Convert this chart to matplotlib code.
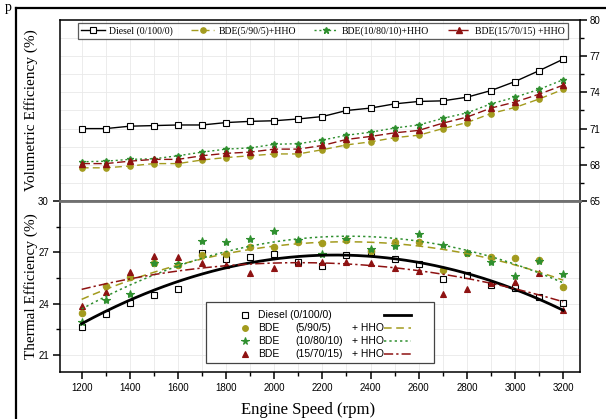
import numpy as np
import matplotlib
matplotlib.use("Agg")
import matplotlib.pyplot as plt
from matplotlib.lines import Line2D
from matplotlib.patches import Rectangle

# ---------------- data ----------------
rpm = [1200, 1300, 1400, 1500, 1600, 1700, 1800, 1900, 2000, 2100, 2200,
       2300, 2400, 2500, 2600, 2700, 2800, 2900, 3000, 3100, 3200]

vol_diesel = [71.0, 71.0, 71.2, 71.25, 71.3, 71.3, 71.5, 71.6, 71.65, 71.8, 72.0,
              72.5, 72.7, 73.05, 73.25, 73.3, 73.6, 74.15, 74.9, 75.8, 76.75]
vol_bde5 = [67.75, 67.75, 67.9, 68.1, 68.1, 68.4, 68.6, 68.75, 68.9, 68.9, 69.25,
            69.65, 69.9, 70.25, 70.45, 71.0, 71.5, 72.25, 72.75, 73.45, 74.25]
vol_bde10 = [68.25, 68.3, 68.45, 68.5, 68.75, 69.05, 69.3, 69.4, 69.7, 69.75, 70.05,
             70.45, 70.7, 71.05, 71.3, 71.85, 72.3, 73.05, 73.6, 74.25, 75.05]
vol_bde15 = [68.1, 68.1, 68.3, 68.45, 68.45, 68.75, 68.95, 69.05, 69.3, 69.3, 69.6,
             70.1, 70.35, 70.65, 70.85, 71.45, 71.95, 72.7, 73.2, 73.85, 74.6]

te_diesel = [22.65, 23.4, 24.06, 24.49, 24.86, 26.95, 26.6, 26.7, 26.92, 26.45, 26.22,
             26.85, 27.0, 26.6, 26.3, 25.45, 25.65, 25.1, 24.92, 24.38, 24.05]
te_bde5 = [23.45, 25.05, 25.55, 26.35, 26.25, 26.85, 26.88, 27.29, 27.32, 27.6, 27.53,
           27.72, 27.1, 27.58, 27.62, 25.99, 26.93, 26.75, 26.64, 26.54, 24.95]
te_bde10 = [22.93, 24.2, 24.59, 26.39, 26.3, 27.66, 27.58, 27.77, 28.24, 27.72, 26.88,
            27.75, 27.2, 27.37, 28.07, 27.42, 26.93, 26.44, 25.61, 26.5, 25.76]
te_bde15 = [23.85, 24.65, 25.82, 26.8, 26.7, 26.39, 26.25, 25.8, 26.06, 26.39, 26.45,
            26.45, 26.4, 26.06, 25.9, 24.55, 24.83, 25.18, 25.24, 25.8, 23.65]

top_labels = ["Diesel (0/100/0)", "BDE(5/90/5)+HHO", "BDE(10/80/10)+HHO", "BDE(15/70/15) +HHO"]
bot_col1 = ["Diesel (0/100/0)", "BDE", "BDE", "BDE"]
bot_col2 = ["", "(5/90/5)", "(10/80/10)", "(15/70/15)"]
bot_col3 = ["", "+ HHO", "+ HHO", "+ HHO"]

vol_ticks = [65, 68, 71, 74, 77, 80]
te_ticks = [21, 24, 27, 30]
x_ticks = [1200, 1400, 1600, 1800, 2000, 2200, 2400, 2600, 2800, 3000, 3200]

# ---------------- styles ----------------
C_D = "black"
C_5 = "#a39b1e"
C_10 = "#2f8f2f"
C_15 = "#8e1212"
SERIF = "Liberation Serif"
SANS = "Liberation Sans"

W, H = 606, 419
fig = plt.figure(figsize=(W / 100, H / 100), dpi=100)


def fx(px):
    return px / W


def fy(py):
    return 1 - py / H


L, R, T, MID, B = 60, 580, 20, 201, 372
ax1 = fig.add_axes([fx(L), fy(MID), fx(R) - fx(L), fy(T) - fy(MID)])
ax2 = fig.add_axes([fx(L), fy(B), fx(R) - fx(L), fy(MID) - fy(B)])

xlim = (1110, 3270)
grid_kw = dict(color="#e9e9e9", lw=0.6)

# ---------------- top panel ----------------
ax1.set_xlim(*xlim)
ax1.set_ylim(65, 80)
ax1.set_xticks(x_ticks)
ax1.set_xticks(rpm, minor=True)
ax1.tick_params(axis="x", which="both", length=0, labelbottom=False)
ax1.yaxis.tick_right()
ax1.set_yticks(vol_ticks)
ax1.set_yticks([66.5, 69.5, 72.5, 75.5, 78.5], minor=True)
ax1.tick_params(axis="y", which="major", length=5, width=1.1, direction="out",
                labelsize=7, pad=2)
ax1.tick_params(axis="y", which="minor", length=3, width=1.0, direction="out")
for lab in ax1.get_yticklabels():
    lab.set_fontfamily(SANS)
ax1.grid(which="both", **grid_kw)
ax1.set_axisbelow(True)

ax1.plot(rpm, vol_diesel, color=C_D, lw=1.0, marker="s", ms=3.8, mfc="white",
         mec=C_D, mew=0.8, label=top_labels[0])
ax1.plot(rpm, vol_bde5, color=C_5, lw=1.0, ls=(0, (5, 3)), marker="o", ms=3.8,
         mfc=C_5, mec=C_5, label=top_labels[1])
ax1.plot(rpm, vol_bde10, color=C_10, lw=1.0, ls=(0, (1.5, 2)), marker="*", ms=5,
         mfc=C_10, mec=C_10, label=top_labels[2])
ax1.plot(rpm, vol_bde15, color=C_15, lw=1.0, ls=(0, (6, 2.5)), marker="^", ms=3.8,
         mfc=C_15, mec=C_15, label=top_labels[3])

ax1.set_ylabel("Volumetric Efficiency (%)", fontfamily=SERIF, fontsize=11)
ax1.yaxis.set_label_position("left")
ax1.yaxis.set_label_coords(-22 / 520, 0.5)

leg = ax1.legend(loc="upper left", ncol=4, mode="expand",
                 bbox_to_anchor=((78 - L) / 520, (MID - 23) / 181, 490 / 520, 0.0),
                 prop={"family": SERIF, "size": 7}, frameon=True, fancybox=False,
                 edgecolor="#333333", handlelength=2.4, handletextpad=0.4,
                 borderpad=0.35, columnspacing=1.0, borderaxespad=0.0)
leg.get_frame().set_linewidth(0.9)

for s in ["left", "top", "right"]:
    ax1.spines[s].set_color("black")
    ax1.spines[s].set_linewidth(1.1)
ax1.spines["bottom"].set_color("#707070")
ax1.spines["bottom"].set_linewidth(2.0)

# ---------------- bottom panel ----------------
ax2.set_xlim(*xlim)
ax2.set_ylim(20, 30)
ax2.set_xticks(x_ticks)
ax2.set_xticks([1300, 1500, 1700, 1900, 2100, 2300, 2500, 2700, 2900, 3100], minor=True)
ax2.set_yticks(te_ticks)
ax2.set_yticks([22.5, 25.5, 28.5], minor=True)
ax2.tick_params(axis="both", which="major", length=5, width=1.1, direction="out",
                labelsize=7, pad=3)
ax2.tick_params(axis="both", which="minor", length=3, width=1.0, direction="out")
for lab in ax2.get_xticklabels() + ax2.get_yticklabels():
    lab.set_fontfamily(SANS)
ax2.grid(which="both", **grid_kw)
ax2.set_axisbelow(True)

xs = np.linspace(min(rpm), max(rpm), 200)
series = [
    (te_diesel, C_D, "s", 4.2, "white", "-", 2.0),
    (te_bde5, C_5, "o", 4.6, C_5, (0, (5, 3)), 1.1),
    (te_bde10, C_10, "*", 6.0, C_10, (0, (1.5, 2)), 1.1),
    (te_bde15, C_15, "^", 5.0, C_15, (0, (6, 2, 1.5, 2)), 1.1),
]
for vals, col, mk, ms, mfc, ls, lw in series:
    ax2.plot(rpm, vals, ls="none", marker=mk, ms=ms, mfc=mfc, mec=col, mew=0.8, zorder=3)
    coef = np.polyfit(rpm, vals, 2)
    ax2.plot(xs, np.polyval(coef, xs), color=col, ls=ls, lw=lw, zorder=4)

ax2.set_ylabel("Thermal Efficiency (%)", fontfamily=SERIF, fontsize=11)
ax2.yaxis.set_label_coords(-22 / 520, 0.5)
ax2.set_xlabel("Engine Speed (rpm)", fontfamily=SERIF, fontsize=12)
ax2.xaxis.set_label_coords((308 - L) / 520, -38 / 171)
ax2.xaxis.label.set_va("center")


# manual legend (markers, text, line after text)
def axx(px):
    return (px - L) / (R - L)


def axy(py):
    return (B - py) / (B - MID)


for s in ["left", "bottom", "right"]:
    ax2.spines[s].set_color("black")
    ax2.spines[s].set_linewidth(1.1)
ax2.spines["top"].set_color("#707070")
ax2.spines["top"].set_linewidth(2.0)

tr = ax2.transAxes
ax2.add_patch(Rectangle((axx(206), axy(363)), axx(434) - axx(206), axy(302) - axy(363),
                        transform=tr, facecolor="white", edgecolor="#444444", lw=0.9,
                        zorder=6))
rows_y = [315, 328, 341, 354]
for i, (vals, col, mk, ms, mfc, ls, lw) in enumerate(series):
    yy = axy(rows_y[i])
    ax2.add_line(Line2D([axx(245)], [yy], transform=tr, ls="none", marker=mk,
                        ms=ms * 0.9, mfc=mfc, mec=col, mew=0.8, zorder=7))
    ax2.text(axx(258), yy, bot_col1[i], transform=tr, fontfamily=SANS, fontsize=7.5,
             va="center", ha="left", zorder=7)
    if bot_col2[i]:
        ax2.text(axx(295), yy, bot_col2[i], transform=tr, fontfamily=SANS, fontsize=7.5,
                 va="center", ha="left", zorder=7)
        ax2.text(axx(352), yy, bot_col3[i], transform=tr, fontfamily=SANS, fontsize=7.5,
                 va="center", ha="left", zorder=7)
    ax2.add_line(Line2D([axx(384), axx(411)], [yy, yy], transform=tr, color=col, ls=ls,
                        lw=lw, zorder=7))

# outer frame and stray glyph
fig.add_artist(Line2D([fx(16), fx(16)], [fy(8), 0], color="black", lw=1.6,
                      transform=fig.transFigure))
fig.add_artist(Line2D([fx(16), 1], [fy(8), fy(8)], color="black", lw=1.6,
                      transform=fig.transFigure))
fig.text(fx(5), fy(1), "p", fontfamily=SERIF, fontsize=10, va="top", ha="left")

fig.savefig("out.png", dpi=100)
